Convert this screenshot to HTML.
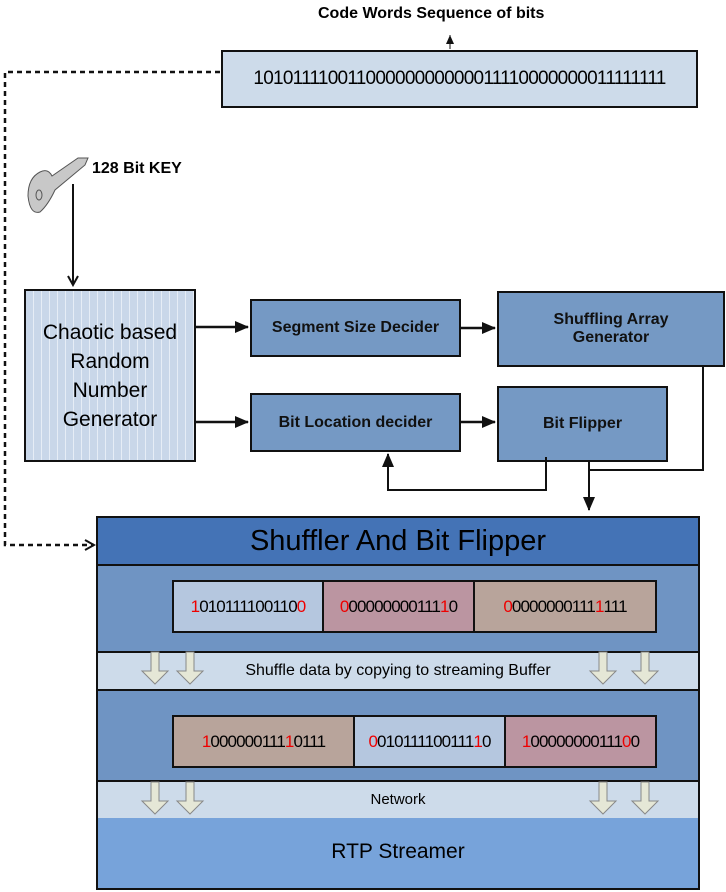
<!DOCTYPE html>
<html><head><style>
body{margin:0;width:726px;height:892px;background:#fff;position:relative;font-family:"Liberation Sans",sans-serif;overflow:hidden}
.b{position:absolute;box-sizing:border-box;border:2px solid #111;display:flex;align-items:center;justify-content:center;text-align:center}
.m{background:#7599c4;font-weight:bold;font-size:16px;color:#111}
.s{position:absolute;box-sizing:border-box;display:flex;align-items:center;justify-content:center;font-size:17px;letter-spacing:-0.9px}
.r{color:#e00}
</style></head><body>
<div style="position:absolute;left:318px;top:5px;font-weight:bold;font-size:16px">Code Words Sequence of bits</div>
<div class="b" style="left:221px;top:50px;width:477px;height:58px;background:#cddbea;font-size:19px;letter-spacing:-0.75px">10101111001100000000000011110000000011111111</div>
<div style="position:absolute;left:92px;top:160px;font-weight:bold;font-size:16px">128 Bit KEY</div>
<div class="b" style="left:24px;top:289px;width:172px;height:173px;background:repeating-linear-gradient(90deg,#c9d7e9 0 7px,#e6edf6 7px 8px);font-size:21px;line-height:29px">Chaotic based<br>Random<br>Number<br>Generator</div>
<div class="b m" style="left:250px;top:299px;width:211px;height:58px">Segment Size Decider</div>
<div class="b m" style="left:497px;top:291px;width:228px;height:76px">Shuffling Array<br>Generator</div>
<div class="b m" style="left:250px;top:393px;width:211px;height:59px">Bit Location decider</div>
<div class="b m" style="left:497px;top:386px;width:171px;height:76px">Bit Flipper</div>
<div style="position:absolute;left:96px;top:516px;width:604px;height:374px;box-sizing:border-box;border:2px solid #111;background:#6f94c3">
 <div style="position:absolute;left:0;top:0;right:0;height:46px;background:#4473b6;border-bottom:2px solid #111;font-size:29px;text-align:center;line-height:46px">Shuffler And Bit Flipper</div>
 <div style="position:absolute;left:0;top:133px;right:0;height:36px;background:#cddbea;border-top:2px solid #111;border-bottom:2px solid #111;font-size:16px;text-align:center;line-height:36px">Shuffle data by copying to streaming Buffer</div>
 <div style="position:absolute;left:0;top:262px;right:0;height:36px;background:#cddbea;border-top:2px solid #111;border-bottom:2px solid #111;font-size:15px;text-align:center;line-height:36px">Network</div>
 <div style="position:absolute;left:0;top:300px;right:0;bottom:0;background:#77a3da;font-size:21px;text-align:center;line-height:68px">RTP Streamer</div>
</div>
<div style="position:absolute;left:172px;top:580px;width:485px;height:53px;border:2px solid #111;box-sizing:border-box;display:flex">
 <div class="s" style="position:static;width:150px;background:#b5c7df;border-right:2px solid #111"><span class="r">1</span>010111100110<span class="r">0</span></div>
 <div class="s" style="position:static;width:151px;background:#bb95a1;border-right:2px solid #111"><span class="r">0</span>00000000111<span class="r">1</span>0</div>
 <div class="s" style="position:static;flex:1;background:#b8a49b"><span class="r">0</span>0000000111<span class="r">1</span>111</div>
</div>
<div style="position:absolute;left:172px;top:715px;width:485px;height:53px;border:2px solid #111;box-sizing:border-box;display:flex">
 <div class="s" style="position:static;width:181px;background:#b8a49b;border-right:2px solid #111"><span class="r">1</span>000000111<span class="r">1</span>0111</div>
 <div class="s" style="position:static;width:151px;background:#b5c7df;border-right:2px solid #111"><span class="r">0</span>010111100111<span class="r">1</span>0</div>
 <div class="s" style="position:static;flex:1;background:#bb95a1"><span class="r">1</span>00000000111<span class="r">0</span>0</div>
</div>
<svg width="726" height="892" style="position:absolute;left:0;top:0">
<defs>
<marker id="a" markerWidth="14" markerHeight="14" refX="13" refY="7" orient="auto" markerUnits="userSpaceOnUse"><path d="M0,1L14,7L0,13z" fill="#111"/></marker>
<marker id="s" markerWidth="10" markerHeight="10" refX="9" refY="5" orient="auto" markerUnits="userSpaceOnUse"><path d="M0,1L9,5L0,9z" fill="#111"/></marker>
<marker id="o" markerWidth="12" markerHeight="12" refX="10" refY="6" orient="auto" markerUnits="userSpaceOnUse"><path d="M1,1L10,6L1,11" fill="none" stroke="#111" stroke-width="2"/></marker>
<g id="da"><path d="M-4,0V19H-13L0,32L13,19H4V0z" fill="#e5e7d6" stroke="#888" stroke-width="1"/></g>
</defs>
<line x1="450" y1="49" x2="450" y2="35" stroke="#111" stroke-width="1" marker-end="url(#s)"/>
<polyline points="220,72 5,72 5,545 94,545" fill="none" stroke="#111" stroke-width="2.5" stroke-dasharray="5,4" marker-end="url(#o)"/>
<line x1="73" y1="184" x2="73" y2="285" stroke="#111" stroke-width="2" marker-end="url(#o)"/>
<line x1="196" y1="327" x2="248" y2="327" stroke="#111" stroke-width="2.5" marker-end="url(#a)"/>
<line x1="196" y1="422" x2="248" y2="422" stroke="#111" stroke-width="2.5" marker-end="url(#a)"/>
<line x1="461" y1="328" x2="495" y2="328" stroke="#111" stroke-width="2.5" marker-end="url(#a)"/>
<line x1="461" y1="422" x2="495" y2="422" stroke="#111" stroke-width="2.5" marker-end="url(#a)"/>
<polyline points="546,457 546,490 388,490 388,454" fill="none" stroke="#111" stroke-width="2" marker-end="url(#a)"/>
<polyline points="703,367 703,470 589,470" fill="none" stroke="#111" stroke-width="2"/>
<line x1="589" y1="462" x2="589" y2="510" stroke="#111" stroke-width="2" marker-end="url(#a)"/>
<path d="M40,172 Q28,178 28,196 Q30,215 40,212 Q48,205 55,190 L85,165 L88,158 L78,158 L52,176 Q48,168 40,172z" fill="#c8c8c8" stroke="#555"/>
<ellipse cx="39" cy="195" rx="3" ry="5" fill="none" stroke="#555"/>
<use href="#da" x="155" y="652"/><use href="#da" x="190" y="652"/><use href="#da" x="603" y="652"/><use href="#da" x="645" y="652"/>
<use href="#da" x="155" y="782"/><use href="#da" x="190" y="782"/><use href="#da" x="603" y="782"/><use href="#da" x="645" y="782"/>
</svg>
</body></html>
